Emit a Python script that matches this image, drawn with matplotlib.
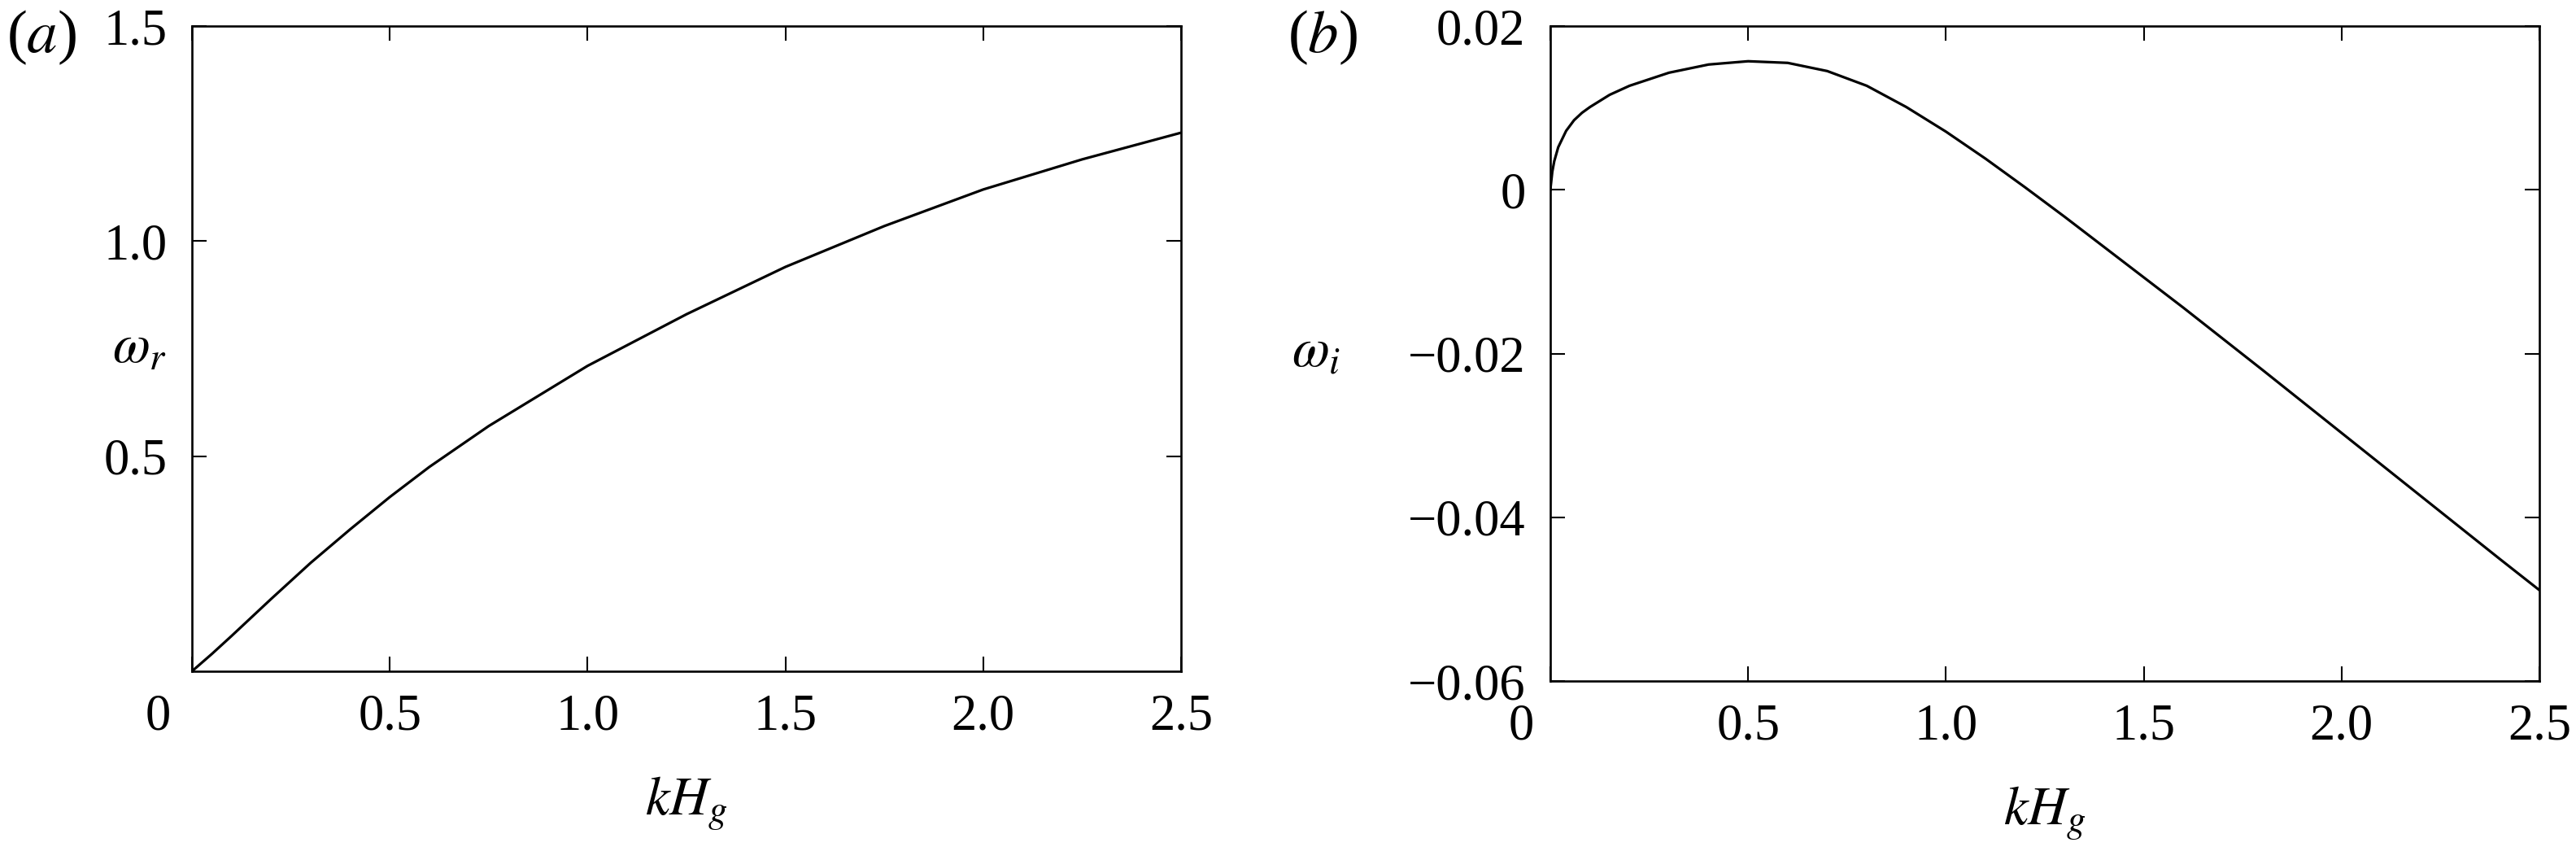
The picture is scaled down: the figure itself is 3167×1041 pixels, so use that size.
import numpy as np
import matplotlib.pyplot as plt
from matplotlib.transforms import ScaledTranslation

plt.rcParams['font.family'] = 'Liberation Serif'
plt.rcParams['mathtext.fontset'] = 'stix'
plt.rcParams['font.size'] = 45

# (a) real part of the growth rate
kH_a = [0.0, 0.05, 0.1, 0.2, 0.3, 0.4, 0.5, 0.6, 0.75, 1.0, 1.25, 1.5, 1.75, 2.0, 2.25, 2.5]
omega_r = [0.0, 0.040, 0.082, 0.168, 0.252, 0.330, 0.405, 0.475, 0.570, 0.710, 0.830, 0.940, 1.035, 1.120, 1.190, 1.252]

# (b) imaginary part
kH_b = [0.0, 0.005, 0.01, 0.02, 0.04, 0.06, 0.08, 0.1, 0.15, 0.2, 0.3, 0.4, 0.5, 0.6, 0.7, 0.8,
        0.9, 1.0, 1.1, 1.2, 1.3, 1.4, 1.5, 1.6, 1.8, 2.0, 2.2, 2.4, 2.5]
omega_i = [0.0, 0.0022, 0.0035, 0.0052, 0.0072, 0.0085, 0.0094, 0.0101, 0.0116, 0.0127, 0.0143,
           0.0153, 0.0157, 0.0155, 0.0145, 0.0127, 0.0101, 0.0071, 0.0038, 0.0003, -0.0033,
           -0.0070, -0.0107, -0.0144, -0.0220, -0.0297, -0.0374, -0.0451, -0.0489]

W, H = 3167, 1041
fig = plt.figure(figsize=(W / 100, H / 100), dpi=100)
ax1 = fig.add_axes([236 / W, 1 - 825 / H, (1452 - 236) / W, (825 - 32) / H])
ax2 = fig.add_axes([1906 / W, 1 - 837 / H, (3122 - 1906) / W, (837 - 32) / H])

for ax in (ax1, ax2):
    ax.tick_params(direction='in', length=13, width=1.5, top=True, right=True,
                   labelsize=45)
    ax.tick_params(axis='x', pad=20)
    ax.tick_params(axis='y', pad=22)
    for s in ax.spines.values():
        s.set_linewidth(1.9)
    ax.set_xlim(0, 2.5)
    ax.set_xticks([0, 0.5, 1.0, 1.5, 2.0, 2.5])
    ax.set_xticklabels(['0', '0.5', '1.0', '1.5', '2.0', '2.5'])
    ax.set_xlabel('$kH_g$', fontsize=48, labelpad=30)

ax1.plot(kH_a, omega_r, color='black', lw=2.3)
ax1.set_ylim(0, 1.5)
ax1.set_yticks([0.5, 1.0, 1.5])
ax1.set_yticklabels(['0.5', '1.0', '1.5'])
ax1.set_ylabel(r'$\omega_r$', rotation=0, fontsize=48, va='center', ha='center')
ax1.yaxis.set_label_coords(-0.053, 0.5)

ax2.plot(kH_b, omega_i, color='black', lw=2.3)
ax2.set_ylim(-0.06, 0.02)
ax2.set_yticks([-0.06, -0.04, -0.02, 0, 0.02])
ax2.set_yticklabels(['\u22120.06', '\u22120.04', '\u22120.02', '0', '0.02'])
ax2.set_ylabel(r'$\omega_i$', rotation=0, fontsize=48, va='center', ha='center')
ax2.yaxis.set_label_coords(-0.237, 0.5)

# the origin "0" sits left of the corner
fig.canvas.draw()
for ax, dx in ((ax1, -42), (ax2, -36)):
    lab = ax.get_xticklabels()[0]
    lab.set_transform(lab.get_transform() + ScaledTranslation(dx / 100, 0, fig.dpi_scale_trans))

fig.text(8 / W, 1 - 46 / H, '($a$)', fontsize=54, ha='left', va='center')
fig.text(1583 / W, 1 - 46 / H, '($b$)', fontsize=54, ha='left', va='center')

fig.savefig('out.png', dpi=100)
